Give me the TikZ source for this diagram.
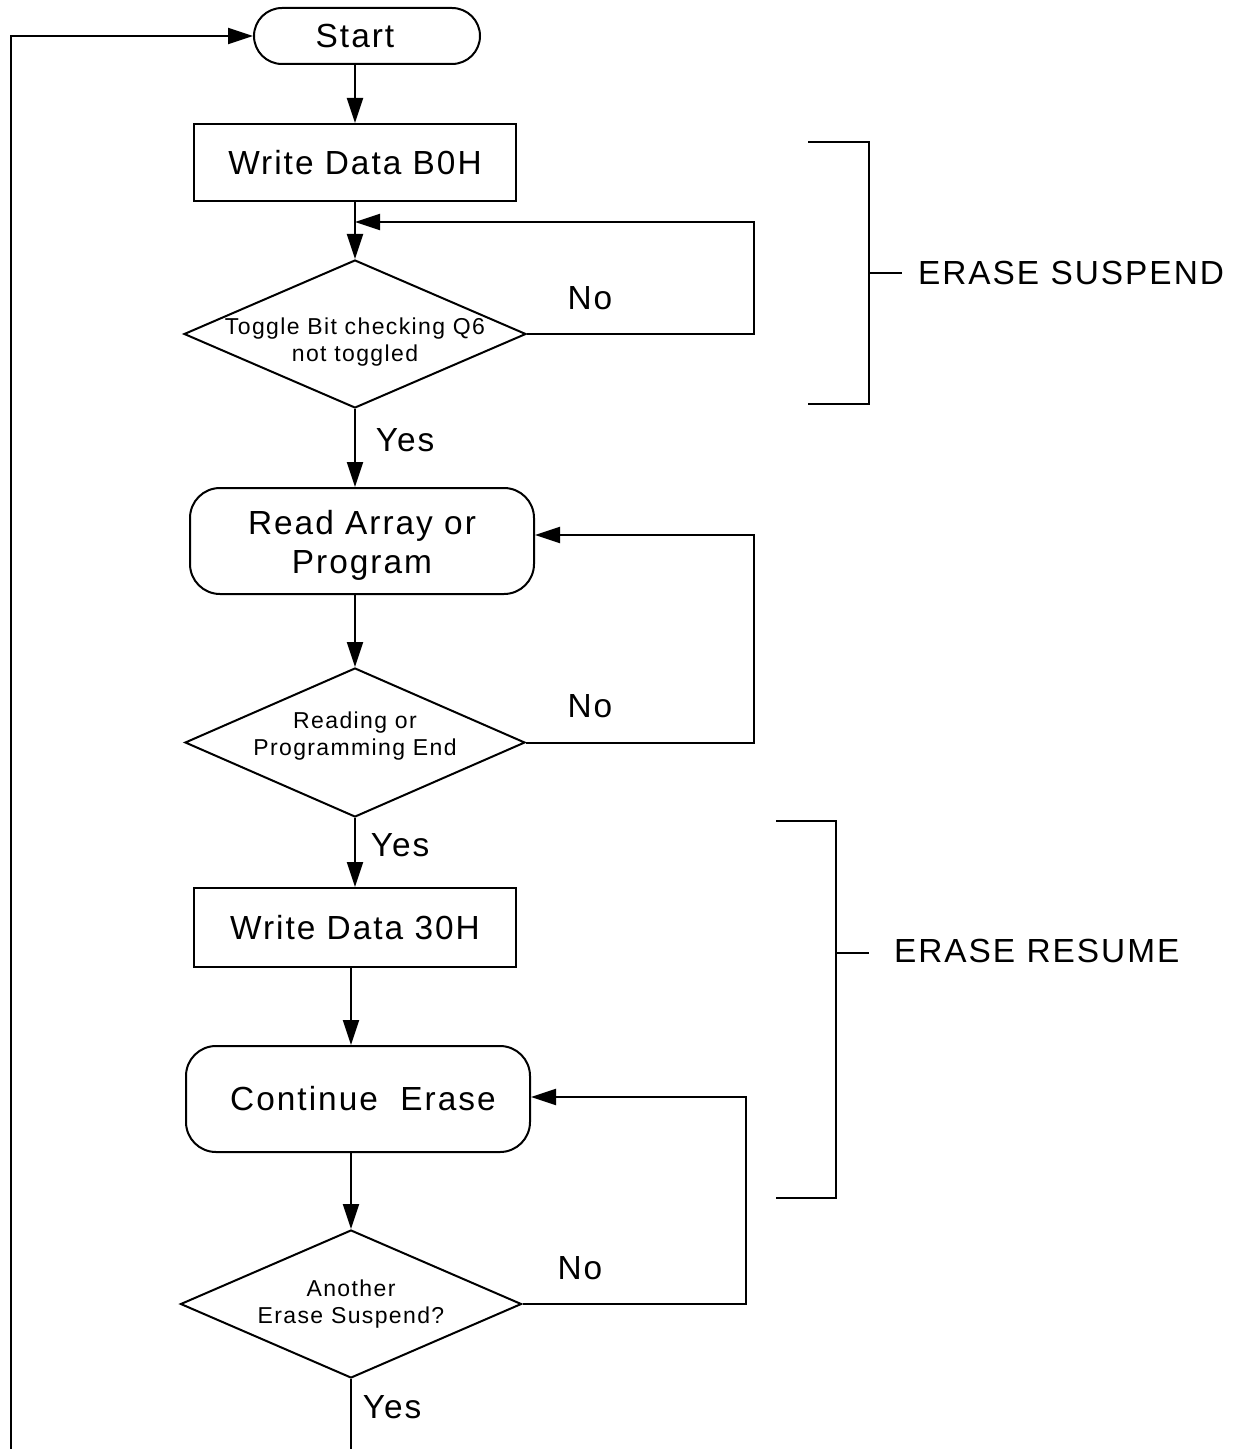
\documentclass[tikz,border=0pt]{standalone}
\usepackage{fontspec}
\setmainfont{Liberation Sans}[LetterSpace=6]
\usetikzlibrary{shapes.geometric,arrows.meta,calc}
\begin{document}
\begin{tikzpicture}[x=0.5pt,y=-0.5pt,
  line width=1pt,
  arr/.style={-{Triangle[length=12.5pt,width=8pt]}},
  big/.style={font=\fontsize{16.7}{19.5}\selectfont},
  small/.style={font=\fontsize{11.5}{13.5}\selectfont},
  box/.style={draw, rectangle, inner sep=0pt, big, align=center},
  dec/.style={draw, diamond, inner sep=-8pt, small, align=center, aspect=2.31},
  lbl/.style={big, inner sep=0pt},
]
\useasboundingbox (0,0) rectangle (1232,1449);

\node[box, rounded corners=14pt, minimum width=113pt, minimum height=28pt] (start) at (367,36) {\hspace*{-12pt}Start};
\node[box, minimum width=161pt, minimum height=38.5pt] (b0h) at (355,162.5) {Write Data B0H};
\node[dec, minimum width=171pt, minimum height=74pt] (d1) at (355,334) {\rule{0pt}{16.5pt}Toggle Bit checking Q6\\not toggled};
\node[box, rounded corners=15pt, minimum width=172pt, minimum height=53pt] (read) at (362,541) {\rule{0pt}{16pt}Read Array or\\Program};
\node[dec, minimum width=170pt, minimum height=74.5pt] (d2) at (355,742.5) {Reading or\\Programming End\rule[-8.5pt]{0pt}{1pt}};
\node[box, minimum width=161pt, minimum height=39.5pt] (b30) at (355,927.5) {Write Data 30H};
\node[box, rounded corners=15pt, minimum width=172pt, minimum height=53pt] (ce) at (358,1099) {\hspace*{5pt}Continue\ \ Erase};
\node[dec, minimum width=170.5pt, minimum height=74pt] (d3) at (351,1304) {Another\\Erase Suspend?};

\coordinate (j1) at (355,222);
\coordinate (r1) at (754,222);
\coordinate (r2) at (754,535);
\coordinate (r3) at (746,1097);
\coordinate (bot) at (351,1449);
\coordinate (lb) at (11,1449);

\draw[arr] (start.south -| b0h.north) -- (b0h.north);
\draw[arr] (b0h.south) -- (d1.north);
\draw[arr] (d1.east) -| (r1) -- (j1);
\draw[arr] (d1.south) -- (d1.south |- read.north);
\draw[arr] (read.south -| d1.south) -- (d2.north);
\draw[arr] (d2.east) -| (r2) -- (r2 -| read.east);
\draw[arr] (d2.south) -- (d2.south |- b30.north);
\draw[arr] (b30.south -| d3.north) -- (d3.north |- ce.north);
\draw[arr] (ce.south -| d3.north) -- (d3.north);
\draw[arr] (d3.east) -| (r3) -- (r3 -| ce.east);
\draw (d3.south) -- (bot);
\draw[arr] (lb) |- (start.west);

\node[lbl] (no1) at (590,298) {No};
\node[lbl] (no2) at (590,706) {No};
\node[lbl] (no3) at (580,1268) {No};
\node[lbl] (yes1) at (405,440) {Yes};
\node[lbl] (yes2) at (400,845) {Yes};
\node[lbl] (yes3) at (392,1407) {Yes};

\draw (808,142) -- (869,142) -- (869,404) -- (808,404);
\draw (869,273) -- (902,273);
\node[lbl, anchor=west] (es) at (917,273) {ERASE SUSPEND};
\draw (776,821) -- (836,821) -- (836,1198) -- (776,1198);
\draw (836,953) -- (869,953);
\node[lbl, anchor=west] (er) at (893,951) {ERASE RESUME};
\end{tikzpicture}
\end{document}
